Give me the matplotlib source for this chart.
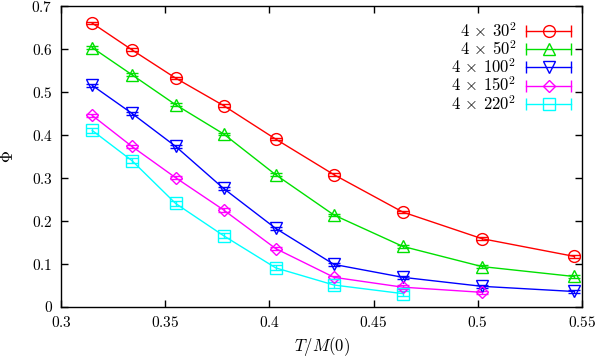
import matplotlib
matplotlib.use('Agg')
import matplotlib.pyplot as plt
from matplotlib.legend_handler import HandlerBase
from matplotlib.lines import Line2D
from matplotlib.ticker import FuncFormatter

plt.rcParams['font.family'] = 'serif'
plt.rcParams['font.serif'] = ['DejaVu Serif']
plt.rcParams['mathtext.fontset'] = 'cm'

# T/M(0) values
x = [0.315, 0.334, 0.355, 0.378, 0.403, 0.431, 0.464, 0.502, 0.546]

phi_30 = [0.660, 0.598, 0.532, 0.468, 0.390, 0.307, 0.220, 0.158, 0.117]
phi_50 = [0.603, 0.540, 0.470, 0.402, 0.307, 0.213, 0.140, 0.093, 0.070]
phi_100 = [0.515, 0.450, 0.373, 0.275, 0.182, 0.098, 0.068, 0.047, 0.035]
phi_150 = [0.445, 0.373, 0.300, 0.225, 0.135, 0.068, 0.045, 0.033]
phi_220 = [0.410, 0.340, 0.240, 0.165, 0.090, 0.050, 0.030]

err_30 = [0.003, 0.003, 0.003, 0.003, 0.003, 0.003, 0.003, 0.003, 0.003]
err_50 = [0.003, 0.003, 0.003, 0.003, 0.003, 0.003, 0.003, 0.003, 0.003]
err_100 = [0.004, 0.004, 0.004, 0.004, 0.004, 0.004, 0.004, 0.004, 0.004]
err_150 = [0.004, 0.004, 0.004, 0.004, 0.004, 0.004, 0.004, 0.004]
err_220 = [0.006, 0.006, 0.006, 0.006, 0.006, 0.006, 0.006]

labels = [r'$4\,\times\,30^2$', r'$4\,\times\,50^2$', r'$4\,\times\,100^2$',
          r'$4\,\times\,150^2$', r'$4\,\times\,220^2$']

series = [
    (phi_30, err_30, '#ff0000', 'o', 8.5),
    (phi_50, err_50, '#00e000', '^', 8),
    (phi_100, err_100, '#0000ff', 'v', 8),
    (phi_150, err_150, '#ff00ff', 'D', 6.5),
    (phi_220, err_220, '#00ffff', 's', 8),
]


class ErrHandler(HandlerBase):
    # gnuplot style key: horizontal bar with end caps and the point in the middle
    def create_artists(self, legend, orig, xdescent, ydescent, width, height, fontsize, trans):
        c = orig.get_color()
        y = height / 2 - ydescent
        x0 = -xdescent
        x1 = x0 + width
        bar = Line2D([x0, x1], [y, y], color=c, lw=1)
        caps = Line2D([x0, x1], [y, y], ls='none', marker='|', ms=8, mew=1, color=c)
        pt = Line2D([(x0 + x1) / 2], [y], ls='none', marker=orig.get_marker(),
                    ms=orig.get_markersize(), mfc='none', mec=c, mew=1)
        for a in (bar, caps, pt):
            a.set_transform(trans)
        return [bar, caps, pt]


fig = plt.figure(figsize=(5.99, 3.62), dpi=100)
ax = fig.add_axes([61 / 599, 55.5 / 362, 521 / 599, 300.5 / 362])

handles = []
for (y, e, c, m, ms), lab in zip(series, labels):
    ax.errorbar(x[:len(y)], y, yerr=e, color=c, lw=1, marker=m, ms=ms,
                mfc='none', mec=c, mew=1, capsize=4, elinewidth=1)
    handles.append(Line2D([], [], color=c, marker=m, ms=ms))

ax.set_xlim(0.3, 0.55)
ax.set_ylim(0, 0.7)
ax.set_xticks([0.3, 0.35, 0.4, 0.45, 0.5, 0.55])
ax.set_yticks([0, 0.1, 0.2, 0.3, 0.4, 0.5, 0.6, 0.7])
fmt = FuncFormatter(lambda v, p: '$%s$' % ('%g' % round(v, 3)))
ax.xaxis.set_major_formatter(fmt)
ax.yaxis.set_major_formatter(fmt)
ax.tick_params(direction='in', top=True, right=True, length=5, width=1,
               labelsize=11, pad=6)
for s in ax.spines.values():
    s.set_linewidth(1)

ax.set_xlabel(r'$T/M(0)$', fontsize=12, labelpad=4)
ax.set_ylabel(r'$\Phi$', fontsize=12, labelpad=10)

ax.legend(handles, labels, handler_map={Line2D: ErrHandler()}, loc='upper right',
          frameon=False, markerfirst=False, fontsize=12, handlelength=2.7,
          labelspacing=-0.03, borderaxespad=0.55, handletextpad=0.6,
          bbox_to_anchor=(1.01, 1.0))

fig.savefig('out.png', dpi=100)
